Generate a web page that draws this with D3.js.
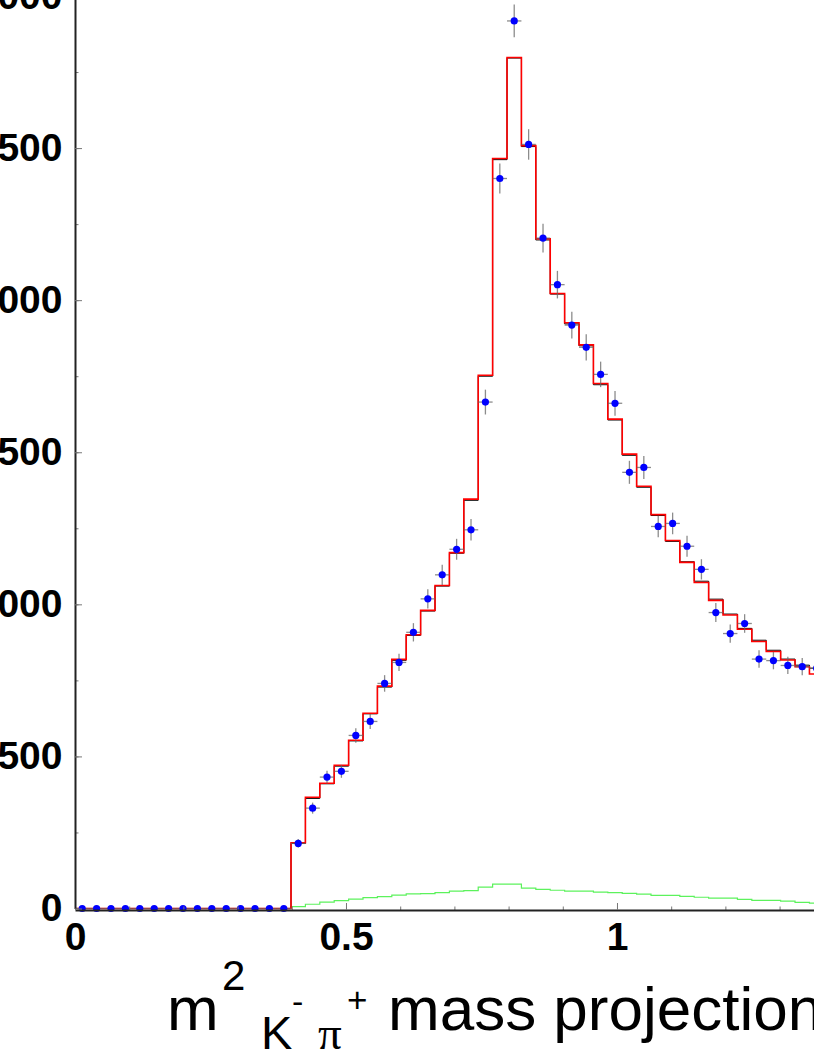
<!DOCTYPE html>
<html>
<head>
<meta charset="utf-8">
<script src="https://cdn.jsdelivr.net/npm/d3@7"></script>
<style>
  body { margin: 0; background: #ffffff; }
  svg { display: block; }
</style>
</head>
<body>
<svg id="chart"></svg>
<script>
var width = 814,
    height = 1053;

// binning of the projection (GeV^2)
var binWidth = 0.02657;

// data points, events per bin
var dataCounts = [0, 0, 0, 0, 0, 0, 0, 0, 0, 0, 0, 0, 0, 0, 0,
  214, 330, 432, 451, 569, 615, 740, 809, 908, 1018, 1097, 1181, 1245, 1665,
  2400, 2918, 2512, 2204, 2051, 1918, 1845, 1756, 1661, 1434, 1450, 1256,
  1266, 1191, 1115, 973, 904, 937, 820, 815, 799, 795, 790];

// fit, total (black)
var fitTotal = [0, 0, 0, 0, 0, 0, 0, 0, 0, 0, 0, 0, 0, 0, 0,
  214, 362, 410, 468, 551, 640, 728, 816, 898, 978, 1060, 1168, 1342, 1750,
  2462, 2796, 2505, 2198, 2020, 1922, 1850, 1722, 1606, 1490, 1385, 1292,
  1207, 1140, 1076, 1017, 968, 921, 882, 849, 820, 800, 790];

// fit, model (red)
var fitModel = [0, 0, 0, 0, 0, 0, 0, 0, 0, 0, 0, 0, 0, 0, 0,
  216, 366, 412, 471, 553, 642, 731, 819, 900, 980, 1062, 1170, 1346, 1753,
  2466, 2798, 2508, 2202, 2022, 1926, 1853, 1726, 1609, 1494, 1388, 1295,
  1210, 1138, 1072, 1013, 965, 918, 878, 845, 817, 795, 771];

// background (green)
var background = [0, 0, 0, 0, 0, 0, 0, 0, 0, 0, 0, 0, 0, 0, 0,
  6, 14, 21, 26, 31, 36, 39, 44, 48, 49, 52, 57, 59, 70, 80, 80, 67, 63,
  60, 57, 57, 54, 52, 50, 47, 43, 43, 40, 37, 34, 34, 30, 27, 27, 24, 20, 18];

var yTicks = [0, 500, 1000, 1500, 2000, 2500, 3000];
var yMinorTicks = d3.range(0, 3001, 250);
var xTicks = [0, 0.5, 1];
var xMinorTicks = d3.range(0, 1.36, 0.1);

var svg = d3.select("#chart")
    .attr("width", width)
    .attr("height", height);

var x = d3.scaleLinear()
    .domain([0, 1.3635])
    .range([75, 814]);

var y = d3.scaleLinear()
    .domain([0, 3000])
    .range([908.5, -4]);

var edges = d3.range(dataCounts.length + 1).map(function(i) { return i * binWidth; });

// histogram outlines
var stepLine = d3.line()
    .x(function(d) { return x(d[0]); })
    .y(function(d) { return y(d[1]); })
    .curve(d3.curveStepAfter);

function histPoints(values) {
  var pts = values.map(function(v, i) { return [edges[i], v]; });
  pts.push([edges[values.length], values[values.length - 1]]);
  return pts;
}

svg.append("path")
    .attr("d", stepLine(histPoints(background)))
    .attr("fill", "none")
    .attr("stroke", "#5cf25c")
    .attr("stroke-width", 1.2);

svg.append("path")
    .attr("d", stepLine(histPoints(fitTotal)))
    .attr("fill", "none")
    .attr("stroke", "#000000")
    .attr("stroke-width", 1);

svg.append("path")
    .attr("d", stepLine(histPoints(fitModel)))
    .attr("fill", "none")
    .attr("stroke", "#ff0000")
    .attr("stroke-width", 1.6);

// data with poisson error bars
var pts = svg.append("g")
  .selectAll("g")
  .data(dataCounts)
  .enter()
  .append("g");

pts.append("line")
    .attr("x1", function(d, i) { return x(edges[i]); })
    .attr("x2", function(d, i) { return x(edges[i + 1]); })
    .attr("y1", function(d) { return y(d); })
    .attr("y2", function(d) { return y(d); })
    .attr("stroke", "#666")
    .attr("stroke-opacity", 0.75)
    .attr("stroke-width", 1.3);

pts.append("line")
    .attr("x1", function(d, i) { return x(edges[i] + binWidth / 2); })
    .attr("x2", function(d, i) { return x(edges[i] + binWidth / 2); })
    .attr("y1", function(d) { return y(d - Math.sqrt(d)); })
    .attr("y2", function(d) { return y(d + Math.sqrt(d)); })
    .attr("stroke", "#666")
    .attr("stroke-opacity", 0.75)
    .attr("stroke-width", 1.3);

pts.append("circle")
    .attr("cx", function(d, i) { return x(edges[i] + binWidth / 2); })
    .attr("cy", function(d) { return y(d); })
    .attr("r", 3.6)
    .attr("fill", "#0000ff");

// axes
var fontFam = "'Liberation Sans', Arial, Helvetica, sans-serif";

var xAxisG = svg.append("g")
    .attr("transform", "translate(0,910)");

xAxisG.append("g")
    .call(d3.axisBottom(x).tickValues(xMinorTicks).tickFormat("").tickSizeInner(-3.5).tickSizeOuter(0))
    .call(function(g) { g.select(".domain").remove(); });

xAxisG.append("g")
    .call(d3.axisBottom(x).tickValues(xTicks).tickFormat(d3.format("")).tickSizeInner(-7).tickSizeOuter(0).tickPadding(12))
    .call(function(g) {
      g.select(".domain").attr("stroke", "#222").attr("stroke-width", 2);
      g.selectAll("text")
        .attr("fill", "#000")
        .style("font-family", fontFam)
        .style("font-weight", "bold")
        .style("font-size", "39px");
    });

var yAxisG = svg.append("g")
    .attr("transform", "translate(75,0)");

yAxisG.append("g")
    .call(d3.axisLeft(y).tickValues(yMinorTicks).tickFormat("").tickSizeInner(-3.5).tickSizeOuter(0))
    .call(function(g) { g.select(".domain").remove(); });

// labels are cropped at the left edge, as in the source figure
yAxisG.append("g")
    .call(d3.axisLeft(y).tickValues(yTicks).tickFormat(d3.format("d")).tickSizeInner(-7).tickSizeOuter(0).tickPadding(12.5))
    .call(function(g) {
      g.select(".domain").attr("stroke", "#222").attr("stroke-width", 2);
      g.selectAll("text")
        .attr("fill", "#000")
        .style("font-family", fontFam)
        .style("font-weight", "bold")
        .style("font-size", "39px");
    });

svg.selectAll(".tick line")
    .attr("stroke", "#777");

// axis title: m^2 K- pi+ mass projection
var title = svg.append("g")
    .style("font-family", fontFam)
    .attr("fill", "#000");

title.append("text").attr("x", 167).attr("y", 1030).style("font-size", "62px").text("m");
title.append("text").attr("x", 222).attr("y", 990).style("font-size", "42px").text("2");
title.append("text").attr("x", 261).attr("y", 1049).style("font-size", "47px").text("K");
title.append("text").attr("x", 292).attr("y", 1013).style("font-size", "34px").text("-");
title.append("text").attr("x", 318).attr("y", 1049).style("font-size", "47px")
    .style("font-family", "'Liberation Serif', 'DejaVu Serif', serif").text("π");
title.append("text").attr("x", 347).attr("y", 1012).style("font-size", "35px").text("+");
title.append("text").attr("x", 388).attr("y", 1030).style("font-size", "62px").text("mass projection");
</script>
</body>
</html>
